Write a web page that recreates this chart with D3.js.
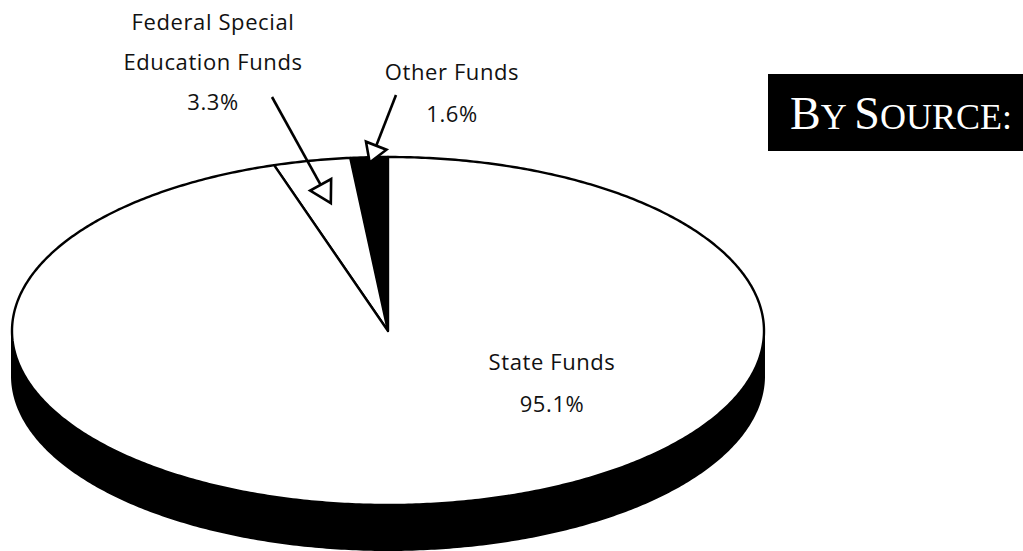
<!DOCTYPE html>
<html>
<head>
<meta charset="utf-8">
<script src="https://cdn.jsdelivr.net/npm/d3@7"></script>
<style>
  html, body { margin: 0; padding: 0; background: #fff; }
  svg { display: block; }
</style>
</head>
<body>
<svg id="chart" width="1023" height="551"></svg>
<script>
// ---- data ----
const categories = ["Other Funds", "Federal Special Education Funds", "State Funds"];
const values = [1.6, 3.3, 95.1];
const valueLabels = ["1.6%", "3.3%", "95.1%"];
const sliceColors = ["#000", "#fff", "#fff"];
const titleText = ["B", "Y", " ", "S", "OURCE:"];

// ---- layout ----
const W = 1023, H = 551;
const cx = 388, cy = 331, rx = 376, ry = 174, depth = 45;
const svg = d3.select("#chart");

const xs = d3.scaleLinear().domain([-1, 1]).range([cx - rx, cx + rx]);
const ys = d3.scaleLinear().domain([-1, 1]).range([cy + ry, cy - ry]);
const proj = (a, r, dz = 0) => [xs(r * Math.sin(a)), ys(r * Math.cos(a)) + dz];

const pie = d3.pie().sort(null).value(d => d).startAngle(0).endAngle(-2 * Math.PI);
const arcs = pie(values);

function rimPoints(a0, a1, dz = 0) {
  const n = Math.max(2, Math.ceil(Math.abs(a1 - a0) / 0.01));
  return d3.range(n + 1).map(i => proj(a0 + (a1 - a0) * i / n, 1, dz));
}
const line = d3.line();

// side wall (visible lower half)
const sideTop = rimPoints(Math.PI / 2, 3 * Math.PI / 2);
const sideBot = rimPoints(3 * Math.PI / 2, Math.PI / 2, depth);
svg.append("path")
  .attr("d", line(sideTop.concat(sideBot)) + "Z")
  .attr("fill", "#000").attr("stroke", "#000").attr("stroke-width", 2);

// top face slices
svg.selectAll("path.slice").data(arcs).join("path")
  .attr("class", "slice")
  .attr("d", d => line([[cx, cy]].concat(rimPoints(d.startAngle, d.endAngle))) + "Z")
  .attr("fill", (d, i) => sliceColors[i])
  .attr("stroke", "#000").attr("stroke-width", 2.4)
  .attr("stroke-linejoin", "round");

// ---- labels ----
const font = "'Open Sans', sans-serif";
function label(lines, x, y0, step) {
  const t = svg.append("text").attr("font-family", font).attr("font-size", 22)
    .attr("letter-spacing", 0.6).attr("fill", "#111").attr("text-anchor", "middle");
  lines.forEach((s, i) => t.append("tspan").attr("x", x).attr("y", y0 + i * step).text(s));
}
label(["Federal Special", "Education Funds", valueLabels[1]], 213, 30, 40);
label(["Other Funds", valueLabels[0]], 452, 80, 42);
label([categories[2], valueLabels[2]], 552, 370, 42);

// ---- arrows ----
function arrow(tail, tip, len, wid) {
  const dx = tip[0] - tail[0], dy = tip[1] - tail[1];
  const L = Math.hypot(dx, dy), ux = dx / L, uy = dy / L;
  const base = [tip[0] - ux * len, tip[1] - uy * len];
  svg.append("line").attr("x1", tail[0]).attr("y1", tail[1])
    .attr("x2", base[0]).attr("y2", base[1])
    .attr("stroke", "#000").attr("stroke-width", 2.6);
  const p = [tip, [base[0] - uy * wid / 2, base[1] + ux * wid / 2], [base[0] + uy * wid / 2, base[1] - ux * wid / 2]];
  svg.append("path").attr("d", line(p) + "Z")
    .attr("fill", "#fff").attr("stroke", "#000").attr("stroke-width", 2.6)
    .attr("stroke-linejoin", "miter");
}
const midA = d => (d.startAngle + d.endAngle) / 2;
arrow([272, 97], proj(midA(arcs[1]), 0.75), 21, 24);
arrow([396, 95], proj(midA(arcs[0]), 0.97), 18, 22);

// ---- title box ----
svg.append("rect").attr("x", 768).attr("y", 74).attr("width", W - 768).attr("height", 77).attr("fill", "#000");
const tt = svg.append("text").attr("x", 790).attr("y", 129)
  .attr("font-family", "'Liberation Serif', 'Times New Roman', serif").attr("fill", "#fff");
const sizes = [46, 36, 36, 46, 36];
titleText.forEach((s, i) => tt.append("tspan").attr("font-size", sizes[i]).text(s));
</script>
</body>
</html>
